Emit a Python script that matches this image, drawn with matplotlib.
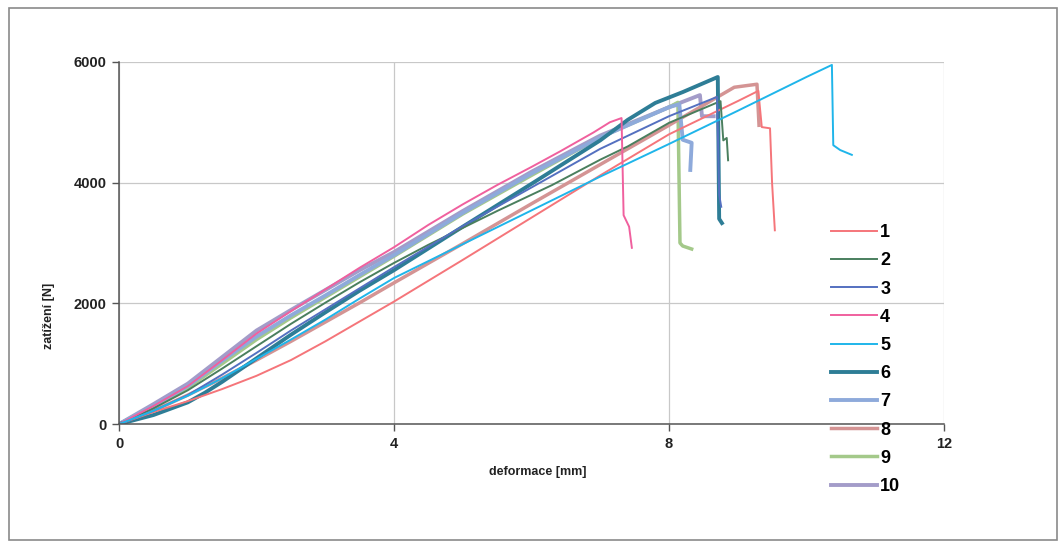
import matplotlib
matplotlib.use("Agg")
import matplotlib.pyplot as plt
from matplotlib.patches import Rectangle

plt.rcParams['font.family'] = ['Liberation Sans', 'DejaVu Sans']

# deformace [mm] / zatížení [N] pro 10 vzorků
x1 = [0, 0.5, 1, 1.5, 2, 2.5, 3, 3.5, 4, 5, 6, 7, 8, 9, 9.3, 9.35, 9.47, 9.5, 9.54]
y1 = [0, 200, 380, 580, 800, 1060, 1370, 1700, 2030, 2720, 3420, 4120, 4800, 5350, 5520, 4920, 4900, 3990, 3210]

x2 = [0, 0.5, 1, 1.5, 2, 2.5, 3, 3.5, 4, 4.5, 5, 5.5, 6.3, 7, 7.4, 8, 8.75, 8.79, 8.84, 8.86]
y2 = [0, 260, 560, 920, 1290, 1660, 2010, 2350, 2670, 2970, 3250, 3530, 3960, 4380, 4600, 4990, 5350, 4700, 4740, 4370]

x3 = [0, 0.5, 1, 1.5, 2, 2.5, 3, 3.5, 4, 5, 6, 7, 8, 8.7, 8.73, 8.76]
y3 = [0, 220, 480, 820, 1180, 1550, 1900, 2250, 2600, 3280, 3920, 4560, 5100, 5420, 3800, 3600]

x4 = [0, 0.5, 1, 1.5, 2, 2.5, 3, 3.5, 4, 4.5, 5, 5.5, 6, 6.42, 6.9, 7.14, 7.31, 7.34, 7.42, 7.46]
y4 = [0, 300, 630, 1060, 1500, 1870, 2230, 2590, 2930, 3300, 3640, 3960, 4260, 4520, 4830, 5000, 5070, 3460, 3270, 2920]

x5 = [0, 0.5, 1, 1.5, 2, 2.5, 3, 3.5, 4, 5, 6, 7, 8, 9, 10, 10.37, 10.39, 10.49, 10.66]
y5 = [0, 220, 470, 760, 1080, 1400, 1730, 2080, 2420, 2980, 3540, 4100, 4640, 5190, 5750, 5950, 4620, 4540, 4460]

x6 = [0, 0.5, 1, 1.25, 1.5, 2, 2.5, 3, 3.5, 4, 5, 6, 7, 7.4, 7.8, 8.2, 8.71, 8.73, 8.77]
y6 = [0, 150, 360, 520, 700, 1090, 1480, 1850, 2210, 2550, 3270, 3980, 4700, 5040, 5320, 5500, 5750, 3400, 3330]

x7 = [0, 0.5, 1, 1.5, 2, 2.5, 3, 3.5, 4, 5, 6, 7, 8, 8.15, 8.2, 8.33, 8.31]
y7 = [0, 300, 630, 1050, 1450, 1800, 2130, 2470, 2800, 3500, 4150, 4750, 5250, 5300, 4710, 4660, 4210]

x8 = [0, 0.5, 1, 1.5, 2, 2.5, 3, 3.5, 4, 5, 6, 7, 8, 8.95, 9.28, 9.31]
y8 = [0, 220, 480, 760, 1060, 1370, 1690, 2010, 2340, 2990, 3650, 4300, 4950, 5580, 5630, 4950]

x9 = [0, 0.5, 1, 1.5, 2, 2.5, 3, 3.5, 4, 5, 6, 7, 8, 8.13, 8.16, 8.2, 8.33]
y9 = [0, 290, 600, 1000, 1400, 1760, 2100, 2440, 2780, 3480, 4120, 4750, 5250, 5330, 3000, 2950, 2900]

x10 = [0, 0.5, 1, 1.5, 2, 2.5, 3, 3.5, 4, 5, 6, 7, 8, 8.45, 8.48, 8.65]
y10 = [0, 330, 670, 1110, 1550, 1890, 2220, 2550, 2850, 3530, 4180, 4780, 5250, 5450, 5100, 5100]

labels = ["1", "2", "3", "4", "5", "6", "7", "8", "9", "10"]
colors = ["#F5757A", "#4A7F5E", "#5470C0", "#F0609E", "#1FB5EA",
          "#2E7D96", "#8EAADB", "#D49494", "#A4C98A", "#A39CC9"]
widths = [1.4, 1.4, 1.4, 1.4, 1.4, 2.8, 2.8, 2.5, 2.5, 2.8]
series = [(x1, y1), (x2, y2), (x3, y3), (x4, y4), (x5, y5),
          (x6, y6), (x7, y7), (x8, y8), (x9, y9), (x10, y10)]

fig = plt.figure(figsize=(10.63, 5.43), dpi=100)
ax = fig.add_axes([0.112, 0.219, 0.776, 0.667])

# kreslení: silné čáry dřív, tenké navrch
order = [9, 8, 7, 6, 5, 0, 1, 2, 3, 4]
handles = [None] * 10
for i in order:
    xs, ys = series[i]
    ln, = ax.plot(xs, ys, color=colors[i], lw=widths[i], label=labels[i],
                  solid_joinstyle="round")
    handles[i] = ln

ax.set_xlim(0, 12)
ax.set_ylim(0, 6000)
ax.set_xticks([0, 4, 8, 12])
ax.set_yticks([0, 2000, 4000, 6000])
ax.grid(True, color="#c8c8c8", lw=0.9)
ax.set_axisbelow(True)
for s in ["top", "right"]:
    ax.spines[s].set_visible(False)
for s in ["left", "bottom"]:
    ax.spines[s].set_color("#555555")
    ax.spines[s].set_linewidth(1.1)
ax.tick_params(direction="out", length=5, width=1, color="#555555",
               labelsize=10.5, pad=4)
for t in ax.get_xticklabels() + ax.get_yticklabels():
    t.set_fontweight("bold")
    t.set_color("#222222")

ax.set_xlabel("deformace [mm]", fontsize=9, fontweight="bold", color="#222222")
ax.xaxis.set_label_coords(0.508, -0.115)
ax.set_ylabel("zatížení [N]", fontsize=9, fontweight="bold", color="#222222")
ax.yaxis.set_label_coords(-0.078, 0.298)

leg = fig.legend(handles=handles, labels=labels, loc="upper left",
                 bbox_to_anchor=(0.766, 0.617), frameon=False,
                 handlelength=2.6, handletextpad=0.15, labelspacing=0.62,
                 prop={"size": 13, "weight": "bold"})

# rámeček kolem celého grafu
fig.patches.append(Rectangle((0.008, 0.006), 0.986, 0.98, transform=fig.transFigure,
                             fill=False, edgecolor="#8a8a8a", lw=1.2))

fig.savefig("out.png", dpi=100)
